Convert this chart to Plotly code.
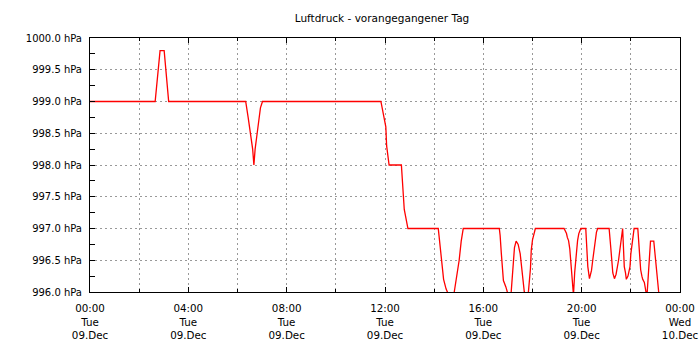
import plotly.graph_objects as go

DAY = "2025-12-09"
times = ["00:00", "02:39", "02:51", "03:01", "03:12",
         "06:20", "06:26", "06:33", "06:37", "06:40", "06:43", "06:48", "06:52", "06:56", "07:01",
         "11:50", "11:56", "12:02", "12:04", "12:07", "12:10", "12:40", "12:42", "12:45", "12:47",
         "12:51", "12:53", "12:56",
         "14:10", "14:15", "14:17", "14:20", "14:23", "14:29", "14:39", "14:49", "14:55", "15:01",
         "15:06", "15:11",
         "16:39", "16:41", "16:44", "16:46", "16:49", "16:55", "16:58", "17:03", "17:08", "17:13",
         "17:16", "17:20", "17:25", "17:30", "17:32", "17:34", "17:37", "17:40", "17:45", "17:50",
         "17:55", "17:57", "18:00", "18:04", "18:07",
         "19:17", "19:23", "19:25", "19:28", "19:31", "19:33", "19:36", "19:38", "19:40", "19:43",
         "19:45", "19:48", "19:50", "19:53", "19:58", "20:10", "20:12", "20:15", "20:19", "20:22",
         "20:24", "20:27", "20:29", "20:32", "20:34", "20:36", "20:39",
         "21:07", "21:11", "21:14", "21:16", "21:20", "21:24", "21:30", "21:34", "21:37", "21:40",
         "21:42", "21:44", "21:47", "21:49", "21:53", "21:58", "22:00", "22:03", "22:05", "22:08",
         "22:17", "22:19", "22:21", "22:24", "22:27", "22:29", "22:33", "22:37", "22:40", "22:43",
         "22:46", "22:48", "22:56", "22:59", "23:01", "23:05", "23:08", "23:11", "23:55"]
pressure = [999.0, 999.0, 999.8, 999.8, 999.0,
            999.0, 998.75, 998.45, 998.25, 998.0, 998.25, 998.5, 998.75, 998.9, 999.0,
            999.0, 998.8, 998.6, 998.3, 998.1, 998.0, 998.0, 997.7, 997.5, 997.3,
            997.15, 997.07, 997.0,
            997.0, 996.7, 996.5, 996.3, 996.2, 996.05, 995.9, 996.0, 996.25, 996.5,
            996.8, 997.0,
            997.0, 996.89, 996.6, 996.34, 996.18, 996.08, 996.0, 995.9, 996.0, 996.5,
            996.7, 996.8, 996.75, 996.6, 996.47, 996.3, 996.13, 996.0, 995.9, 996.0,
            996.37, 996.66, 996.82, 996.95, 997.0,
            997.0, 996.92, 996.86, 996.81, 996.68, 996.5, 996.31, 996.13, 995.95, 996.31,
            996.5, 996.68, 996.81, 996.92, 997.0, 997.0, 996.75, 996.4, 996.21, 996.28,
            996.34, 996.5, 996.6, 996.68, 996.81, 996.94, 997.0,
            997.0, 996.7, 996.4, 996.3, 996.21, 996.28, 996.5, 996.7, 996.88, 997.0,
            996.7, 996.4, 996.3, 996.2, 996.25, 996.4, 996.6, 996.75, 996.88, 997.0,
            997.0, 996.75, 996.5, 996.35, 996.25, 996.2, 996.15, 996.0, 996.0, 996.35,
            996.6, 996.8, 996.8, 996.6, 996.35, 996.15, 996.0, 995.9, 995.9]

x = [f"{DAY} {t}" for t in times]

FONT = "DejaVu Sans"
fig = go.Figure()
fig.add_trace(go.Scatter(x=x, y=pressure, mode="lines",
                         line=dict(color="#ff0000", width=1.3), showlegend=False))

grid = dict(gridcolor="#999999", gridwidth=1, griddash="2px,3px")

fig.update_layout(
    width=700, height=344,
    margin=dict(l=90, r=20, t=38, b=52),
    paper_bgcolor="white", plot_bgcolor="white",
    font=dict(family=FONT, size=10, color="black"),
    title=dict(text="Luftdruck - vorangegangener Tag", x=382/700, xanchor="center",
               y=1 - 18/344, yanchor="middle", yref="container",
               font=dict(family=FONT, size=10.5, color="black")),
    xaxis=dict(type="date", range=[f"{DAY} 00:00", "2025-12-10 00:00"],
               tick0=f"{DAY} 00:00", dtick=4*3600*1000,
               tickformat="%H:%M<br>%a<br>%d.%b", automargin=False,
               ticks="inside", ticklen=5, tickcolor="black",
               showline=True, linecolor="black", linewidth=1, mirror="ticks",
               showgrid=True, **grid, zeroline=False, ticklabelstandoff=7,
               tickfont=dict(family=FONT, size=10.3, color="black"),
               minor=dict(dtick=2*3600*1000, ticks="inside", ticklen=3, tickcolor="black",
                          showgrid=True, **grid)),
    yaxis=dict(range=[996, 1000], tick0=996, dtick=0.5, tickformat=".1f", ticksuffix=" hPa",
               ticks="inside", ticklen=5, tickcolor="black", automargin=False,
               showline=True, linecolor="black", linewidth=1, mirror=True,
               showgrid=True, **grid, zeroline=False, ticklabelstandoff=5,
               minor=dict(dtick=0.25, ticks="inside", ticklen=5, tickcolor="black",
                          showgrid=False)),
)

fig.write_html("out.html")
